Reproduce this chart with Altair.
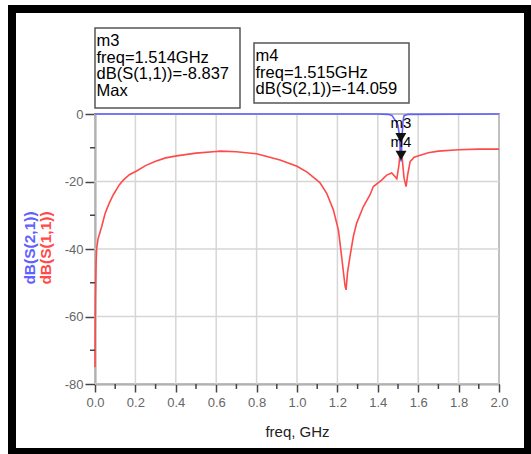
import altair as alt
import pandas as pd

# ---- data ----
s11_freq = [0.000, 0.002, 0.005, 0.008, 0.015, 0.033, 0.05, 0.07, 0.09, 0.12, 0.14, 0.17, 0.206,
            0.25, 0.30, 0.35, 0.404, 0.50, 0.60, 0.62, 0.70, 0.80, 0.916, 1.00, 1.05, 1.10, 1.114,
            1.147, 1.18, 1.205, 1.221, 1.238, 1.243, 1.25, 1.262, 1.279, 1.295, 1.328, 1.361, 1.378,
            1.419, 1.444, 1.469, 1.485, 1.494, 1.505, 1.514, 1.522, 1.53, 1.54, 1.548, 1.56, 1.58,
            1.61, 1.65, 1.70, 1.80, 1.90, 2.00]
s11_db = [-75, -55, -45, -40, -37, -33.4, -29.5, -26.5, -24, -21, -19.6, -18, -16.9,
          -15.3, -14, -13, -12.4, -11.6, -11.1, -11, -11.2, -11.8, -13.6, -15.5, -17.2, -19.7, -20.4,
          -23.5, -28.4, -34.4, -42.3, -51, -52.1, -47, -42.3, -36.3, -32.4, -27.5, -24, -21.5,
          -19.6, -18.1, -17.5, -18.5, -19.2, -15, -8.837, -14, -19, -21.5, -18, -14.1, -12.8,
          -12.2, -11.5, -11, -10.6, -10.4, -10.4]

s21_freq = [0.0, 0.5, 1.0, 1.40, 1.45, 1.47, 1.485, 1.495, 1.50, 1.505, 1.51, 1.515, 1.52,
            1.525, 1.53, 1.55, 2.0]
s21_db = [0, 0, 0, 0, -0.1, -0.4, -1.8, -2.6, -3.5, -5.5, -9, -14.059, -7, -2, -0.5, -0.1, 0]

marker_names = ["m3", "m4"]
marker_freq = [1.514, 1.515]
marker_db = [-8.837, -14.059]
marker_trace = ["S(1,1)", "S(2,1)"]
marker_extra = ["Max", ""]

x_ticks = [0.0, 0.2, 0.4, 0.6, 0.8, 1.0, 1.2, 1.4, 1.6, 1.8, 2.0]
x_minor = [0.1, 0.3, 0.5, 0.7, 0.9, 1.1, 1.3, 1.5, 1.7, 1.9]
y_ticks = [-80, -60, -40, -20, 0]
y_minor = [-70, -50, -30, -10]

x_title = "freq, GHz"
y_titles = ["dB(S(2,1))", "dB(S(1,1))"]

# ---- build tables ----
RED = "#ff4a4a"
BLUE = "#6060ff"
FONT = "Liberation Sans"
GRID = "#d6d6d6"

s11 = pd.DataFrame({"freq": s11_freq, "db": s11_db})
s21 = pd.DataFrame({"freq": s21_freq, "db": s21_db})
mk = pd.DataFrame({"freq": marker_freq, "db": marker_db, "name": marker_names})

W, H = 404, 270
xs = alt.Scale(domain=[0, 2], nice=False, zero=False)
ys = alt.Scale(domain=[-80, 0], nice=False, zero=False)

xaxis = alt.Axis(values=x_ticks, format=".1f", title=x_title, grid=False,
                 tickSize=8, tickColor="#444", domainColor="#444", domainWidth=1.5,
                 tickWidth=1.5, labelPadding=4, labelFontSize=13, labelColor="#666", labelFont=FONT,
                 labelFlush=False, titleFont=FONT, titleFontSize=15, titleFontWeight="normal",
                 titleColor="#222", titlePadding=15)
yaxis = alt.Axis(values=y_ticks, labelExpr="'' + datum.value", title=None, grid=False,
                 tickSize=10, tickColor="#444", domainColor="#444", domainWidth=1.5,
                 tickWidth=1.5, labelPadding=2, labelFontSize=13, labelColor="#666", labelFont=FONT,
                 labelFlush=False)


def X(field):
    return alt.X(field, scale=xs, axis=xaxis)


def Y(field):
    return alt.Y(field, scale=ys, axis=yaxis)


dummy = pd.DataFrame({"d": [0]})

frame = alt.Chart(dummy).mark_rect(fill=None, stroke="black", strokeWidth=8).encode(
    x=alt.value(-83), x2=alt.value(433), y=alt.value(-105), y2=alt.value(338))

xgrid = alt.Chart(pd.DataFrame({"f": x_ticks})).mark_rule(color=GRID, strokeWidth=1.5).encode(
    x=X("f:Q"), y=alt.value(0), y2=alt.value(H))
ygrid = alt.Chart(pd.DataFrame({"v": y_ticks})).mark_rule(color=GRID, strokeWidth=1.5).encode(
    y=Y("v:Q"), x=alt.value(0), x2=alt.value(W))

red = alt.Chart(s11).mark_line(color=RED, strokeWidth=1.6).encode(
    x=X("freq:Q"), y=Y("db:Q"), order="freq:Q")

blue = alt.Chart(s21).mark_line(color=BLUE, strokeWidth=1.6).encode(
    x=X("freq:Q"), y=Y("db:Q"), order="freq:Q")

xminor = alt.Chart(pd.DataFrame({"f": x_minor})).mark_rule(color="#444", strokeWidth=1.5).encode(
    x=X("f:Q"), y=alt.value(H), y2=alt.value(H + 5))
yminor = alt.Chart(pd.DataFrame({"v": y_minor})).mark_rule(color="#444", strokeWidth=1.5).encode(
    y=Y("v:Q"), x=alt.value(-5), x2=alt.value(0))

tri = alt.Chart(mk).mark_point(shape="triangle-down", filled=True, size=120, color="#111",
                               opacity=1, yOffset=-6).encode(x=X("freq:Q"), y=Y("db:Q"))

mlabel_m3 = alt.Chart(mk[mk["name"] == "m3"]).mark_text(
    font=FONT, fontSize=15, color="black", dy=-21, align="center", baseline="middle").encode(
    x=X("freq:Q"), y=Y("db:Q"), text="name:N")
mlabel_m4 = alt.Chart(mk[mk["name"] == "m4"]).mark_text(
    font=FONT, fontSize=15, color="black", dy=-19, align="center", baseline="middle").encode(
    x=X("freq:Q"), y=Y("db:Q"), text="name:N")

# info boxes (annotation layout in pixels relative to plot origin)
box_layout = [
    {"x": 0, "x2": 145, "y": -86, "y2": -6},
    {"x": 159, "x2": 314, "y": -71, "y2": -11},
]
boxes = []
for i, name in enumerate(marker_names):
    lines = [name, f"freq={marker_freq[i]:.3f}GHz", f"dB({marker_trace[i]})={marker_db[i]:.3f}"]
    if marker_extra[i]:
        lines.append(marker_extra[i])
    b = box_layout[i]
    rect = alt.Chart(dummy).mark_rect(fill="white", stroke="#555", strokeWidth=1.5).encode(
        x=alt.value(b["x"]), x2=alt.value(b["x2"]), y=alt.value(b["y"]), y2=alt.value(b["y2"]))
    boxes.append(rect)
    for j, line in enumerate(lines):
        tdf = pd.DataFrame({"t": [line]})
        boxes.append(
            alt.Chart(tdf).mark_text(font=FONT, fontSize=16.5, align="left",
                                     baseline="alphabetic", color="black").encode(
                x=alt.value(b["x"] + 1.5), y=alt.value(b["y"] + 18 + j * 16.7), text="t:N"))

ytitle_layers = []
for i, (t, c) in enumerate(zip(y_titles, [BLUE, RED])):
    ytitle_layers.append(
        alt.Chart(pd.DataFrame({"t": [t]})).mark_text(
            font=FONT, fontSize=15.5, fontWeight="bold", color=c, angle=270,
            align="center", baseline="middle").encode(
            x=alt.value(-65 + i * 16), y=alt.value(134), text="t:N"))

chart = alt.layer(
    xgrid, ygrid, red, xminor, yminor, blue, tri, mlabel_m3, mlabel_m4, *boxes, *ytitle_layers, frame
).properties(
    width=W, height=H,
    padding={"left": 95, "top": 114, "right": 32, "bottom": 70},
    autosize=alt.AutoSizeParams(type="none"),
    background="white",
).configure_view(stroke="#555", strokeWidth=1.5)

chart.save("out.html", embed_options={"renderer": "svg", "actions": False})
